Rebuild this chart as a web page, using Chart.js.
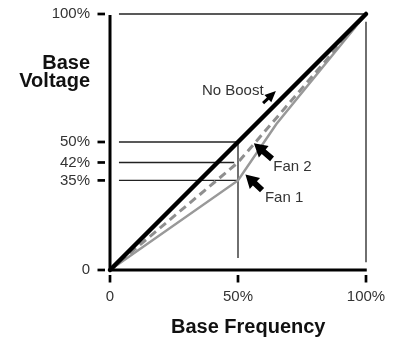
<!DOCTYPE html>
<html>
<head>
<meta charset="utf-8">
<script src="https://cdn.jsdelivr.net/npm/chart.js@4.4.0/dist/chart.umd.min.js"></script>
<style>
  html, body { margin: 0; padding: 0; background: #fff; }
</style>
</head>
<body>
<canvas id="boostChart" width="394" height="339"></canvas>
<script>
// === Chart data (percent of base) ===
const noBoostFreq = [0, 50, 100];
const noBoostVolt = [0, 50, 100];
const fan2Freq = [0, 50, 100];
const fan2Volt = [0, 42, 100];
const fan1Freq = [0, 50, 65, 100];
const fan1Volt = [0, 35, 57, 100];

const xTicks = [0, 50, 100];
const xTickLabels = ["0", "50%", "100%"];
const yTicks = [0, 35, 42, 50, 100];
const yTickLabels = ["0", "35%", "42%", "50%", "100%"];

// guide lines: [x1, y1, x2, y2] in data units
const guides = [
  [3.5, 100, 100, 100],
  [100, 97, 100, 3],
  [3.5, 50, 50, 50],
  [3.5, 42, 48.5, 42],
  [3.5, 35, 50, 35],
  [50, 50, 50, 4.7]
];

// callouts: label, text anchor, arrow tail, arrow tip
const callouts = [
  { text: "No Boost", at: [35.9, 69.9], tail: [59.8, 65.2], tip: [64.8, 69.9], head: 11, width: 10, shaft: 3 },
  { text: "Fan 2", at: [63.8, 40.2], tail: [63.3, 43.4], tip: [56.2, 49.5], head: 13, width: 15, shaft: 6 },
  { text: "Fan 1", at: [60.5, 28.1], tail: [59.4, 31.2], tip: [52.9, 37.3], head: 13, width: 15, shaft: 6 }
];

const sans = '"Liberation Sans", Arial, sans-serif';

const toPoints = (xs, ys) => xs.map((v, i) => ({ x: v, y: ys[i] }));

// keep the plot box fixed: no extra room for tick labels
const fixBox = (s, size) => {
  if (s.isHorizontal()) s.height = size; else s.width = size;
  s.paddingTop = 0; s.paddingBottom = 0; s.paddingLeft = 0; s.paddingRight = 0;
};

function drawArrow(ctx, x1, y1, x2, y2, head, width, shaft) {
  const len = Math.hypot(x2 - x1, y2 - y1);
  const dx = (x2 - x1) / len, dy = (y2 - y1) / len;
  const nx = -dy, ny = dx;
  const bx = x2 - dx * head, by = y2 - dy * head;
  ctx.beginPath();
  ctx.moveTo(x1 + nx * shaft / 2, y1 + ny * shaft / 2);
  ctx.lineTo(bx + nx * shaft / 2, by + ny * shaft / 2);
  ctx.lineTo(bx + nx * width / 2, by + ny * width / 2);
  ctx.lineTo(x2, y2);
  ctx.lineTo(bx - nx * width / 2, by - ny * width / 2);
  ctx.lineTo(bx - nx * shaft / 2, by - ny * shaft / 2);
  ctx.lineTo(x1 - nx * shaft / 2, y1 - ny * shaft / 2);
  ctx.closePath();
  ctx.fill();
}

// === Guides, axes, callouts and titles ===
const decor = {
  id: "decor",
  beforeDatasetsDraw(chart) {
    const { ctx, scales: { x, y } } = chart;
    ctx.save();
    ctx.strokeStyle = "#222";
    ctx.lineWidth = 1.3;
    guides.forEach(g => {
      ctx.beginPath();
      ctx.moveTo(x.getPixelForValue(g[0]), y.getPixelForValue(g[1]));
      ctx.lineTo(x.getPixelForValue(g[2]), y.getPixelForValue(g[3]));
      ctx.stroke();
    });
    ctx.restore();
  },
  afterDatasetsDraw(chart) {
    const { ctx, scales: { x, y } } = chart;
    const x0 = x.getPixelForValue(0), y0 = y.getPixelForValue(0);
    ctx.save();

    // axes
    ctx.strokeStyle = "#000";
    ctx.lineWidth = 3;
    ctx.beginPath();
    ctx.moveTo(x0, y.getPixelForValue(99.6));
    ctx.lineTo(x0, y0);
    ctx.lineTo(x.getPixelForValue(100.3), y0);
    ctx.stroke();

    // tick dashes, set off from the axes
    ctx.lineWidth = 2.7;
    yTicks.forEach(v => {
      const py = y.getPixelForValue(v);
      ctx.beginPath();
      ctx.moveTo(x0 - 12.5, py);
      ctx.lineTo(x0 - 5, py);
      ctx.stroke();
    });
    xTicks.forEach(v => {
      const px = x.getPixelForValue(v);
      ctx.beginPath();
      ctx.moveTo(px, y0 + 5);
      ctx.lineTo(px, y0 + 12.5);
      ctx.stroke();
    });

    // callouts
    ctx.fillStyle = "#000";
    callouts.forEach(c => {
      drawArrow(ctx,
        x.getPixelForValue(c.tail[0]), y.getPixelForValue(c.tail[1]),
        x.getPixelForValue(c.tip[0]), y.getPixelForValue(c.tip[1]),
        c.head, c.width, c.shaft);
    });
    ctx.fillStyle = "#333";
    ctx.font = "15px " + sans;
    ctx.textAlign = "left";
    ctx.textBaseline = "middle";
    callouts.forEach(c => {
      ctx.fillText(c.text, x.getPixelForValue(c.at[0]), y.getPixelForValue(c.at[1]));
    });

    // axis titles
    ctx.fillStyle = "#111";
    ctx.font = "bold 20px " + sans;
    ctx.textBaseline = "alphabetic";
    ctx.textAlign = "right";
    ctx.fillText("Base", x0 - 20, y.getPixelForValue(78.5));
    ctx.fillText("Voltage", x0 - 20, y.getPixelForValue(71.3));
    ctx.textAlign = "center";
    ctx.fillText("Base Frequency", x.getPixelForValue(54), y0 + 63);
    ctx.restore();
  }
};

new Chart(document.getElementById("boostChart"), {
  type: "line",
  data: {
    datasets: [
      {
        label: "No Boost",
        data: toPoints(noBoostFreq, noBoostVolt),
        borderColor: "#000",
        borderWidth: 4.5,
        borderCapStyle: "round",
        pointRadius: 0,
        clip: false
      },
      {
        label: "Fan 2",
        data: toPoints(fan2Freq, fan2Volt),
        borderColor: "#8f8f8f",
        borderWidth: 3,
        borderDash: [8, 5],
        pointRadius: 0,
        clip: false
      },
      {
        label: "Fan 1",
        data: toPoints(fan1Freq, fan1Volt),
        borderColor: "#999",
        borderWidth: 2.5,
        pointRadius: 0,
        clip: false
      }
    ]
  },
  options: {
    responsive: false,
    devicePixelRatio: 1,
    animation: false,
    layout: { padding: { top: 14, right: 28, left: 0, bottom: 0 } },
    plugins: {
      legend: { display: false },
      tooltip: { enabled: false }
    },
    scales: {
      x: {
        type: "linear",
        min: 0,
        max: 100,
        afterBuildTicks: s => { s.ticks = xTicks.map(v => ({ value: v })); },
        afterFit: s => fixBox(s, 69),
        grid: { display: false, drawTicks: false },
        border: { display: false },
        ticks: {
          padding: 18,
          color: "#333",
          font: { family: sans, size: 15 },
          maxRotation: 0,
          callback: v => xTickLabels[xTicks.indexOf(v)]
        }
      },
      y: {
        type: "linear",
        min: 0,
        max: 100,
        afterBuildTicks: s => { s.ticks = yTicks.map(v => ({ value: v })); },
        afterFit: s => fixBox(s, 110),
        grid: { display: false, drawTicks: false },
        border: { display: false },
        ticks: {
          padding: 20,
          color: "#333",
          font: { family: sans, size: 15 },
          callback: v => yTickLabels[yTicks.indexOf(v)]
        }
      }
    }
  },
  plugins: [decor]
});
</script>
</body>
</html>
